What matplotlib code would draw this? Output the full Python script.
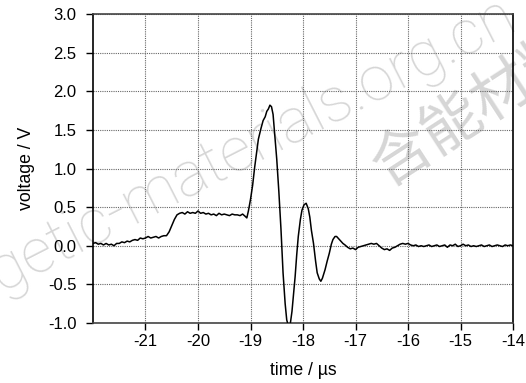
import matplotlib
matplotlib.use('Agg')
import matplotlib.pyplot as plt

# signal
time_us = [-22.0, -21.95, -21.9, -21.85, -21.8, -21.75, -21.7, -21.65, -21.6, -21.55,
           -21.5, -21.45, -21.4, -21.35, -21.3, -21.25, -21.2, -21.15, -21.1, -21.05,
           -21.0, -20.95, -20.9, -20.85, -20.8, -20.75, -20.7, -20.65, -20.6,
           -20.55, -20.5, -20.45, -20.4, -20.35, -20.3, -20.25, -20.2, -20.15, -20.1,
           -20.05, -20.0, -19.95, -19.9, -19.85, -19.8, -19.75, -19.7, -19.65, -19.6,
           -19.55, -19.5, -19.45, -19.4, -19.35, -19.3, -19.25, -19.2, -19.15, -19.1,
           -19.07, -19.04, -19.0, -18.96, -18.92, -18.88, -18.85, -18.8, -18.76, -18.72,
           -18.69, -18.66, -18.63, -18.6, -18.57, -18.54, -18.5, -18.46, -18.42, -18.38,
           -18.34, -18.31, -18.27, -18.24, -18.21, -18.18, -18.15, -18.12, -18.09, -18.05,
           -18.02, -17.98, -17.94, -17.9, -17.87, -17.84, -17.8, -17.76, -17.73, -17.69,
           -17.66, -17.63, -17.58, -17.54, -17.5, -17.46, -17.43, -17.39, -17.36, -17.32,
           -17.28, -17.24, -17.2, -17.15, -17.1, -17.05, -17.0, -16.95, -16.9, -16.85,
           -16.8, -16.75, -16.7, -16.65, -16.6, -16.55, -16.5, -16.45, -16.4, -16.35,
           -16.3, -16.25, -16.2, -16.15, -16.1, -16.05, -16.0, -15.95, -15.9, -15.85,
           -15.8, -15.75, -15.7, -15.65, -15.6, -15.55, -15.5, -15.45, -15.4, -15.35,
           -15.3, -15.25, -15.2, -15.15, -15.1, -15.05, -15.0, -14.95, -14.9, -14.85,
           -14.8, -14.75, -14.7, -14.65, -14.6, -14.55, -14.5, -14.45, -14.4, -14.35,
           -14.3, -14.25, -14.2, -14.15, -14.1, -14.05, -14.0]
voltage = [0.03, 0.04, 0.02, 0.03, 0.01, 0.03, 0.01, 0.02, 0.00, 0.03,
           0.03, 0.05, 0.04, 0.06, 0.05, 0.07, 0.08, 0.07, 0.10, 0.09,
           0.10, 0.12, 0.10, 0.11, 0.12, 0.10, 0.12, 0.13, 0.13,
           0.18, 0.26, 0.34, 0.40, 0.42, 0.43, 0.41, 0.44, 0.42, 0.43,
           0.42, 0.45, 0.42, 0.43, 0.41, 0.42, 0.40, 0.41, 0.39, 0.42,
           0.40, 0.41, 0.40, 0.39, 0.41, 0.40, 0.40, 0.39, 0.41, 0.38,
           0.36, 0.45, 0.60, 0.78, 1.02, 1.22, 1.38, 1.52, 1.62, 1.67,
           1.74, 1.77, 1.82, 1.80, 1.70, 1.45, 1.12, 0.70, 0.22, -0.35,
           -0.75, -0.96, -1.06, -1.00, -0.85, -0.62, -0.40, -0.12, 0.12, 0.34,
           0.46, 0.53, 0.55, 0.48, 0.37, 0.20, 0.03, -0.20, -0.35, -0.43,
           -0.46, -0.42, -0.31, -0.20, -0.10, 0.02, 0.08, 0.12, 0.12, 0.09,
           0.06, 0.03, 0.01, -0.02, -0.04, -0.03, -0.05, -0.02, -0.01, 0.00,
           0.01, 0.02, 0.03, 0.02, 0.03, 0.00, -0.03, -0.05, -0.04, -0.06,
           -0.03, -0.02, 0.00, 0.02, 0.03, 0.02, 0.03, 0.01, 0.00, 0.01,
           -0.01, 0.00, -0.01, 0.00, 0.01, -0.01, 0.00, 0.01, -0.01, 0.00,
           0.01, -0.02, 0.01, 0.00, 0.02, -0.01, 0.00, 0.02, 0.00, 0.01,
           -0.01, 0.00, -0.01, 0.00, 0.01, -0.01, 0.00, 0.01, -0.01, 0.00,
           0.01, 0.00, -0.01, 0.01, 0.00, 0.01, 0.00]

xticks = [-21, -20, -19, -18, -17, -16, -15, -14]
yticks = [-1.0, -0.5, 0.0, 0.5, 1.0, 1.5, 2.0, 2.5, 3.0]

plt.rcParams['font.family'] = ['Liberation Sans', 'DejaVu Sans']

fig = plt.figure(figsize=(5.26, 3.83), dpi=100)
ax = fig.add_axes([0.1768, 0.1567, 0.7985, 0.8067])
ax.set_facecolor('none')

ax.plot(time_us, voltage, color='black', lw=1.1, zorder=3)

ax.set_xlim(-22, -14)
ax.set_ylim(-1.0, 3.0)
ax.set_xticks(xticks)
ax.set_yticks(yticks)
ax.set_xticklabels([str(v) for v in xticks])
ax.set_yticklabels(['%.1f' % v for v in yticks])
ax.tick_params(direction='out', length=5, width=1, labelsize=12)
ax.tick_params(axis='x', pad=3)
ax.tick_params(axis='y', pad=7)
ax.grid(True, linestyle=(0, (1, 1)), color='#666666', lw=0.8)

for s in ['left', 'right']:
    ax.spines[s].set_color('black')
for s in ['top', 'bottom']:
    ax.spines[s].set_color('#444444')
for s in ax.spines.values():
    s.set_linewidth(1.2)

ax.set_xlabel('time / \u00b5s', fontsize=12.7, labelpad=9)
ax.set_ylabel('voltage / V', fontsize=12.7, labelpad=9)

# watermark
fig.text(0.380, 0.551, 'energetic-materials.org.cn', fontsize=45, color='#d6d6d6',
         rotation=27, rotation_mode='anchor', ha='center', va='center', zorder=-1,
         family=['Roboto', 'Liberation Sans'], fontweight='light')
fig.text(0.909, 0.718, '\u542b\u80fd\u6750\u6599', fontsize=43, color='#d6d6d6',
         rotation=33, rotation_mode='anchor', ha='center', va='center', zorder=-1,
         family=['Noto Sans CJK SC', 'DejaVu Sans'], fontweight='light')

fig.savefig('out.png', dpi=100)
